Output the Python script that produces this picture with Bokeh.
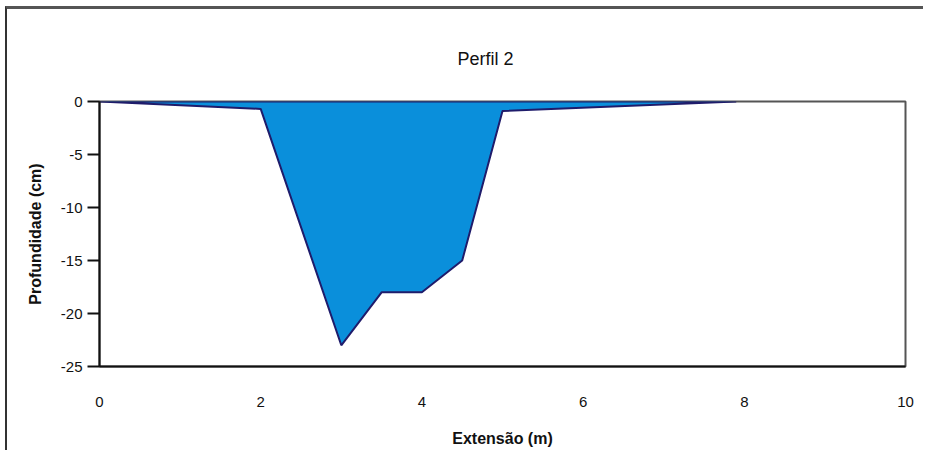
from bokeh.plotting import figure
from bokeh.models import Range1d, FixedTicker
from bokeh.embed import file_html
from bokeh.resources import INLINE

# Data (profile vertices)
extensao_m = [0, 2.0, 3.0, 3.5, 4.0, 4.5, 5.0, 7.9]
profundidade_cm = [0, -0.7, -23.0, -18.0, -18.0, -15.0, -0.9, 0]

x_ticks = [0, 2, 4, 6, 8, 10]
y_ticks = [0, -5, -10, -15, -20, -25]
y_tick_labels = ["0", "-5", "-10", "-15", "-20", "-25"]

FONT = "Liberation Sans"

p = figure(width=918, height=444, output_backend="svg", toolbar_location=None,
           x_range=Range1d(0, 10), y_range=Range1d(-25, 0),
           min_border_left=92, min_border_right=20, min_border_top=92, min_border_bottom=87)
p.styles = {"margin-top": "6px", "margin-left": "5px",
            "border-top": "3px solid #555555", "border-left": "2px solid #333333"}

p.patch(extensao_m, profundidade_cm, fill_color="#0A8FDB", line_color="#1F1C6B", line_width=2)

p.title.text = "Perfil 2"
p.title.align = "left"
p.title.offset = 358
p.title.text_font = FONT
p.title.text_font_style = "normal"
p.title.text_font_size = "18px"
p.title.text_color = "#111111"
p.title.vertical_align = "top"
p.title.standoff = 62

p.xgrid.visible = False
p.ygrid.visible = False
p.outline_line_color = "#555555"
p.outline_line_width = 2
p.outline_line_alpha = 1

xa = p.xaxis[0]
xa.ticker = FixedTicker(ticks=x_ticks)
xa.axis_label = "Extensão (m)"
xa.axis_label_text_font = FONT
xa.axis_label_text_font_style = "bold"
xa.axis_label_text_font_size = "16px"
xa.axis_label_text_color = "#111111"
xa.axis_label_standoff = 20
xa.major_label_text_font = FONT
xa.major_label_text_font_size = "15px"
xa.major_label_text_color = "#111111"
xa.major_label_standoff = 30
xa.major_tick_out = 0
xa.major_tick_in = 0
xa.minor_tick_out = 0
xa.minor_tick_in = 0
xa.axis_line_color = "#111111"
xa.axis_line_width = 2

ya = p.yaxis[0]
ya.ticker = FixedTicker(ticks=y_ticks)
ya.major_label_overrides = {t: s for t, s in zip(y_ticks, y_tick_labels)}
ya.axis_label = "Profundidade (cm)"
ya.axis_label_text_font = FONT
ya.axis_label_text_font_style = "bold"
ya.axis_label_text_font_size = "16px"
ya.axis_label_text_color = "#111111"
ya.axis_label_standoff = 14
ya.major_label_text_font = FONT
ya.major_label_text_font_size = "15px"
ya.major_label_text_color = "#111111"
ya.major_label_standoff = 5
ya.major_tick_out = 12
ya.major_tick_in = 0
ya.major_tick_line_width = 2
ya.major_tick_line_color = "#111111"
ya.minor_tick_out = 0
ya.minor_tick_in = 0
ya.axis_line_color = "#111111"
ya.axis_line_width = 2

open("out.html", "w").write(file_html(p, INLINE))
